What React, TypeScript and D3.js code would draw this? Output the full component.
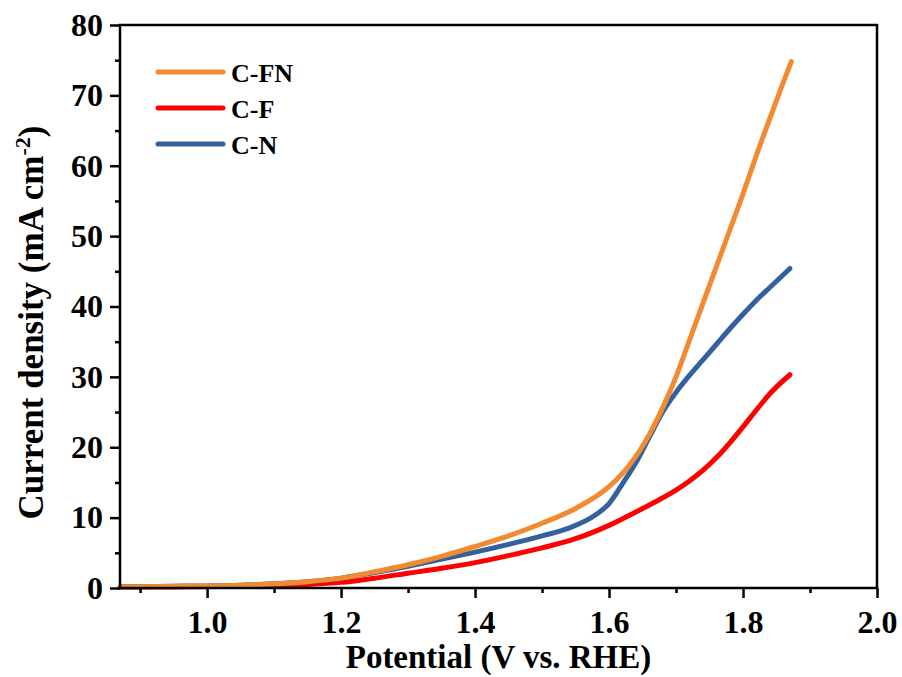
import React, { useEffect, useRef } from "react";
import * as d3 from "d3";

const seriesNames = ["C-FN", "C-F", "C-N"];
const seriesColors = ["#F28A30", "#FF0000", "#33619E"];

const cfnX = [0.87, 0.95, 1.0, 1.05, 1.1, 1.15, 1.2, 1.25, 1.3, 1.35, 1.4, 1.45, 1.5, 1.55, 1.6, 1.63, 1.66, 1.68, 1.7, 1.72, 1.74, 1.76, 1.78, 1.8, 1.82, 1.84, 1.856, 1.872];
const cfnY = [0.15, 0.25, 0.3, 0.4, 0.6, 0.9, 1.4, 2.3, 3.3, 4.5, 5.9, 7.4, 9.2, 11.3, 14.4, 17.4, 21.8, 25.6, 30.0, 35.2, 40.4, 45.6, 50.8, 56.0, 61.5, 66.7, 70.8, 74.8];

const cfX = [0.87, 0.95, 1.0, 1.05, 1.1, 1.15, 1.2, 1.25, 1.3, 1.35, 1.4, 1.45, 1.5, 1.55, 1.6, 1.64, 1.67, 1.7, 1.72, 1.74, 1.76, 1.78, 1.8, 1.82, 1.84, 1.87];
const cfY = [0.1, 0.15, 0.2, 0.25, 0.35, 0.5, 0.8, 1.4, 2.1, 2.8, 3.6, 4.6, 5.7, 7.0, 8.9, 10.8, 12.3, 13.9, 15.2, 16.7, 18.5, 20.6, 22.9, 25.3, 27.6, 30.3];

const cnX = [0.87, 0.95, 1.0, 1.05, 1.1, 1.15, 1.2, 1.25, 1.3, 1.35, 1.4, 1.45, 1.5, 1.54, 1.58, 1.6, 1.62, 1.64, 1.66, 1.68, 1.7, 1.72, 1.74, 1.76, 1.78, 1.8, 1.82, 1.84, 1.87];
const cnY = [0.15, 0.25, 0.3, 0.4, 0.6, 0.9, 1.4, 2.2, 3.1, 4.1, 5.1, 6.2, 7.4, 8.5, 10.4, 12.0, 14.8, 17.8, 21.4, 25.0, 27.8, 30.2, 32.4, 34.6, 36.8, 38.9, 40.9, 42.7, 45.4];

const xMajorTicks = [1.0, 1.2, 1.4, 1.6, 1.8, 2.0];
const xMinorTicks = [0.9, 1.1, 1.3, 1.5, 1.7, 1.9];
const yMajorTicks = [0, 10, 20, 30, 40, 50, 60, 70, 80];
const yMinorTicks = [5, 15, 25, 35, 45, 55, 65, 75];

const W = 902;
const H = 677;
const M = { left: 120, right: 877, top: 25, bottom: 588 };
const FONT = "'Liberation Serif', 'Times New Roman', serif";

export default function App() {
  const ref = useRef<SVGSVGElement>(null);
  useEffect(() => {
    const svg = d3.select(ref.current);
    svg.selectAll("*").remove();
    const x = d3.scaleLinear().domain([0.87, 2.0]).range([M.left, M.right]);
    const y = d3.scaleLinear().domain([0, 80]).range([M.bottom, M.top]);

    const data = [
      cfnX.map((v, i) => [v, cfnY[i]]),
      cfX.map((v, i) => [v, cfY[i]]),
      cnX.map((v, i) => [v, cnY[i]]),
    ];
    const line = d3
      .line<number[]>()
      .x((d) => x(d[0]))
      .y((d) => y(d[1]))
      .curve(d3.curveMonotoneX);

    const order = [1, 2, 0];
    order.forEach((i) => {
      svg
        .append("path")
        .attr("d", line(data[i] as any) as string)
        .attr("fill", "none")
        .attr("stroke", seriesColors[i])
        .attr("stroke-width", 5)
        .attr("stroke-linecap", "round")
        .attr("stroke-linejoin", "round");
    });

    const gx = svg.append("g").attr("transform", `translate(0,${M.bottom})`);
    gx.call(
      d3
        .axisBottom(x)
        .tickValues(xMajorTicks)
        .tickSize(10)
        .tickPadding(12)
        .tickFormat((d) => d3.format(".1f")(d as number))
    );
    gx.call((g) => g.select(".domain").remove());
    const gxm = svg.append("g").attr("transform", `translate(0,${M.bottom})`);
    gxm.call(d3.axisBottom(x).tickValues(xMinorTicks).tickSize(5).tickFormat(() => ""));
    gxm.call((g) => g.select(".domain").remove());

    const gy = svg.append("g").attr("transform", `translate(${M.left},0)`);
    gy.call(d3.axisLeft(y).tickValues(yMajorTicks).tickSize(10).tickPadding(7));
    gy.call((g) => g.select(".domain").remove());
    const gym = svg.append("g").attr("transform", `translate(${M.left},0)`);
    gym.call(d3.axisLeft(y).tickValues(yMinorTicks).tickSize(5).tickFormat(() => ""));
    gym.call((g) => g.select(".domain").remove());

    svg.selectAll(".tick line").attr("stroke", "#000").attr("stroke-width", 2.5);
    svg
      .selectAll(".tick text")
      .attr("fill", "#000")
      .style("font-family", FONT)
      .style("font-weight", "bold")
      .style("font-size", "32px");

    svg
      .append("rect")
      .attr("x", M.left)
      .attr("y", M.top)
      .attr("width", M.right - M.left)
      .attr("height", M.bottom - M.top)
      .attr("fill", "none")
      .attr("stroke", "#000")
      .attr("stroke-width", 2.5);

    seriesNames.forEach((name, i) => {
      const ly = 72 + i * 36;
      svg
        .append("line")
        .attr("x1", 158)
        .attr("x2", 223)
        .attr("y1", ly)
        .attr("y2", ly)
        .attr("stroke", seriesColors[i])
        .attr("stroke-width", 5)
        .attr("stroke-linecap", "round");
      svg
        .append("text")
        .attr("x", 231)
        .attr("y", ly + 9.5)
        .style("font-family", FONT)
        .style("font-weight", "bold")
        .style("font-size", "26px")
        .text(name);
    });

    svg
      .append("text")
      .attr("x", (M.left + M.right) / 2)
      .attr("y", 668)
      .attr("text-anchor", "middle")
      .style("font-family", FONT)
      .style("font-weight", "bold")
      .style("font-size", "33px")
      .text("Potential (V vs. RHE)");

    const yt = svg
      .append("text")
      .attr("transform", `translate(43,${(M.top + M.bottom) / 2 + 16}) rotate(-90)`)
      .attr("text-anchor", "middle")
      .style("font-family", FONT)
      .style("font-weight", "bold")
      .style("font-size", "35px");
    yt.append("tspan").text("Current density (mA cm");
    yt.append("tspan").attr("dy", -13).style("font-size", "22px").text("-2");
    yt.append("tspan").attr("dy", 13).text(")");
  }, []);
  return (
    <svg
      ref={ref}
      width={W}
      height={H}
      style={{ position: "absolute", left: 0, top: 0, background: "#fff" }}
    />
  );
}
